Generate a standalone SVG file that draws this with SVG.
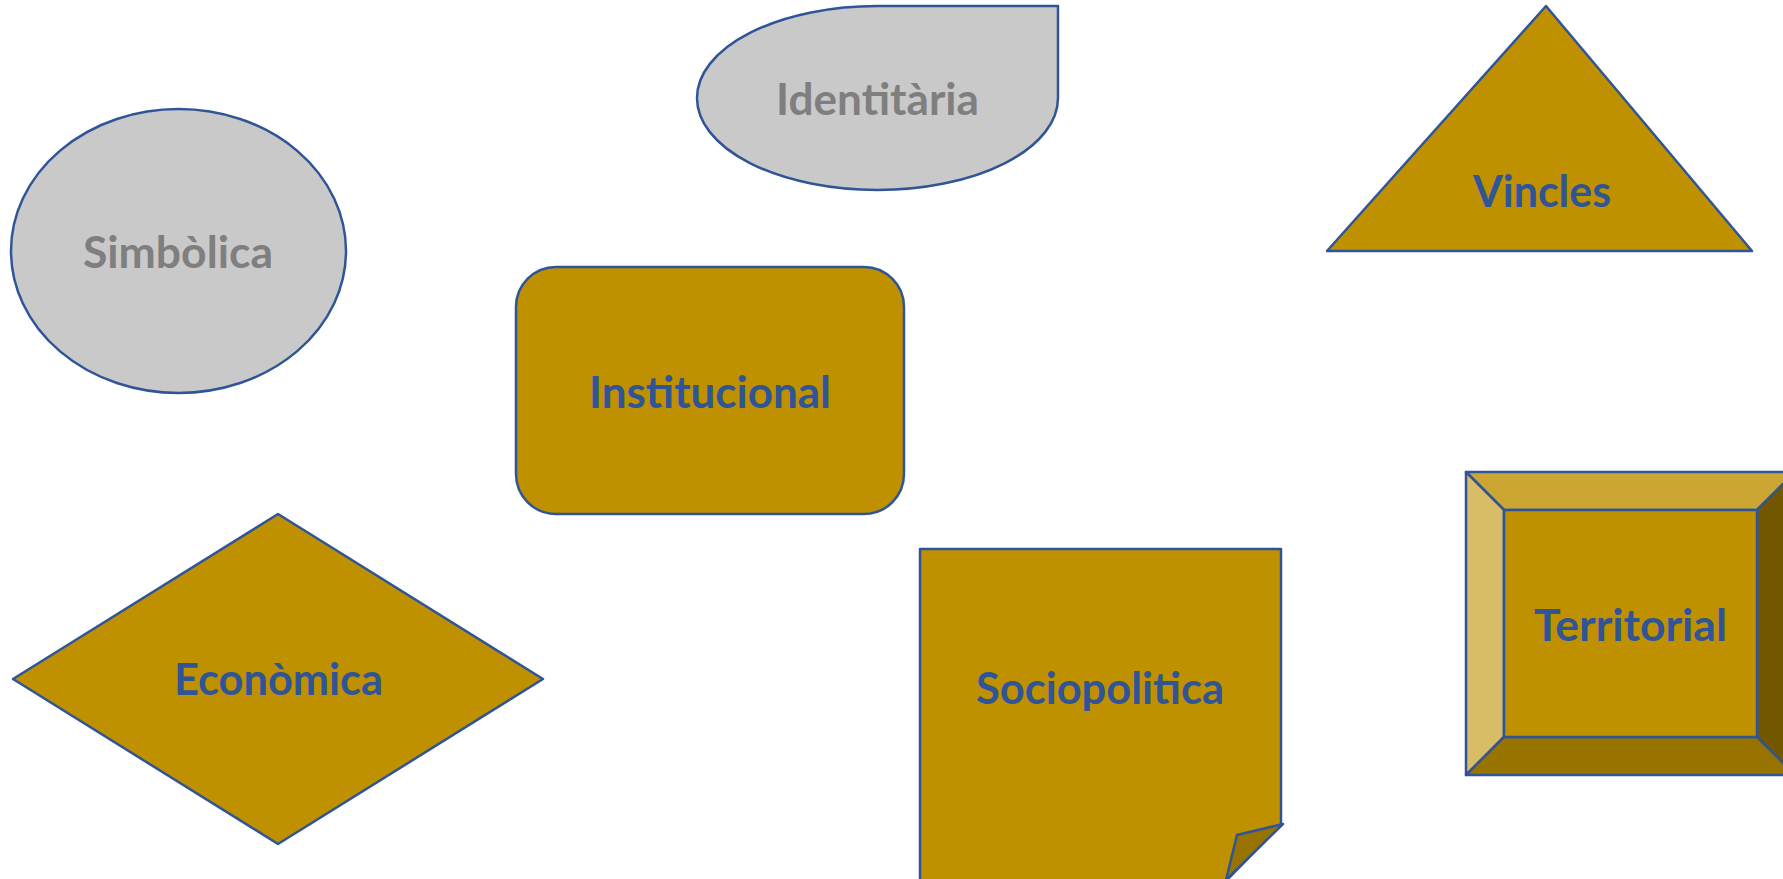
<svg xmlns="http://www.w3.org/2000/svg" width="1783" height="879" viewBox="0 0 1783 879">
<style>
.s{stroke:#2F5597;stroke-width:2.5;stroke-linejoin:round}
.gold{fill:#BF9000}
.gray{fill:#C9C9C9}
.t{font-family:Lato,"Open Sans",sans-serif;font-weight:bold;font-size:44px;text-anchor:middle}
.tb{fill:#2F5597}
.tg{fill:#7F7F7F}
</style>
<rect width="1783" height="879" fill="#FFFFFF"/>
<g id="connectors"></g>
<g id="simbolica">
<ellipse class="s gray" cx="178.5" cy="251" rx="167.5" ry="142"/>
<text class="t tg" x="178" y="268" textLength="190" lengthAdjust="spacingAndGlyphs">Simbòlica</text>
</g>
<g id="identitaria">
<path class="s gray" d="M877.5,6 H1058 V98 A180.5,92 0 0 1 877.5,190 A180.5,92 0 0 1 697,98 A180.5,92 0 0 1 877.5,6 Z"/>
<text class="t tg" x="877.5" y="115" textLength="203" lengthAdjust="spacingAndGlyphs">Identitària</text>
</g>
<g id="vincles">
<polygon class="s gold" points="1546,6 1752,251 1327,251"/>
<text class="t tb" x="1542" y="207" textLength="138" lengthAdjust="spacingAndGlyphs">Vincles</text>
</g>
<g id="institucional">
<rect class="s gold" x="516" y="267" width="388" height="247" rx="40" ry="40"/>
<text class="t tb" x="710" y="408" textLength="242" lengthAdjust="spacingAndGlyphs">Institucional</text>
</g>
<g id="economica">
<polygon class="s gold" points="278,514 543,679 278,844 13,679"/>
<text class="t tb" x="278.5" y="695" textLength="209" lengthAdjust="spacingAndGlyphs">Econòmica</text>
</g>
<g id="sociopolitica">
<path class="s gold" d="M920,549 H1281 V824 L1226,881 H920 Z"/>
<polygon class="s" fill="#997300" points="1283,824 1237,835 1226,880"/>
<text class="t tb" x="1100" y="704" textLength="248" lengthAdjust="spacingAndGlyphs">Sociopolitica</text>
</g>
<g id="territorial">
<polygon class="s" fill="#CCA633" points="1466,472 1795,472 1757,510 1504,510"/>
<polygon class="s" fill="#D9BC66" points="1466,472 1504,510 1504,737 1466,775"/>
<polygon class="s" fill="#735600" points="1795,472 1795,775 1757,737 1757,510"/>
<polygon class="s" fill="#997300" points="1466,775 1504,737 1757,737 1795,775"/>
<rect class="s gold" x="1504" y="510" width="253" height="227"/>
<text class="t tb" x="1630.5" y="641" textLength="193" lengthAdjust="spacingAndGlyphs">Territorial</text>
</g>
</svg>
